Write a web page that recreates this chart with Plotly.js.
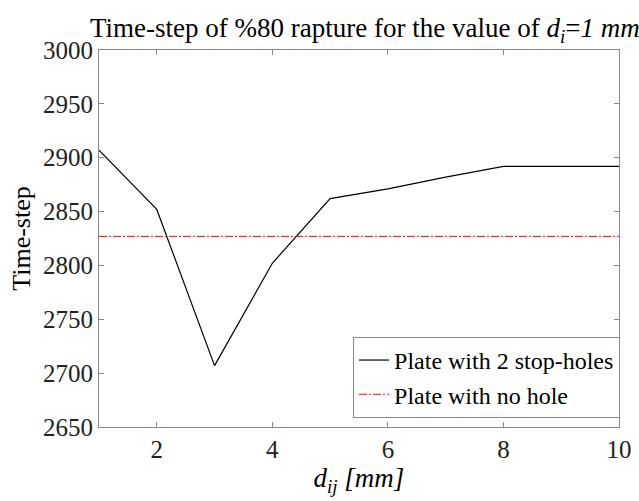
<!DOCTYPE html>
<html>
<head>
<meta charset="utf-8">
<script src="https://cdn.plot.ly/plotly-3.0.1.min.js"></script>
<style>html,body{margin:0;padding:0;background:#fff;}#chart{width:639px;height:501px;}</style>
</head>
<body>
<div id="chart"></div>
<script>
const dij = [1, 2, 3, 4, 5, 6, 7, 8, 9, 10];
const stopHoles = [2907, 2852, 2707, 2802, 2862, 2871, 2882, 2892, 2892, 2892];
const noHoleX = [1, 10];
const noHole = [2827, 2827];
const xTicks = [2, 4, 6, 8, 10];
const yTicks = [2650, 2700, 2750, 2800, 2850, 2900, 2950, 3000];

const font = 'Times New Roman, Liberation Serif, serif';
const traces = [
  {x: dij, y: stopHoles, mode: 'lines', name: 'Plate with 2 stop-holes',
   line: {color: '#000', width: 1.2}},
  {x: noHoleX, y: noHole, mode: 'lines', name: 'Plate with no hole',
   line: {color: '#ff0000', width: 1, dash: '8px,2px,2px,2px'}}
];
const axisCommon = {
  showgrid: false, zeroline: false, showline: true, linecolor: '#888', linewidth: 1,
  mirror: 'allticks', ticks: 'inside', ticklen: 5, tickcolor: '#888',
  tickfont: {family: font, size: 25, color: '#222'}
};
const layout = {
  width: 639, height: 501,
  margin: {l: 99, r: 20, t: 50, b: 74},
  paper_bgcolor: '#fff', plot_bgcolor: '#fff',
  font: {family: font, color: '#000'},
  title: {text: 'Time-step of %80 rapture for the value of <i>d</i><sub><i>i</i></sub>=<i>1 mm</i>',
          font: {family: font, size: 27, color: '#000'}, x: 0.571, xanchor: 'center', y: 0.945, yanchor: 'middle'},
  xaxis: Object.assign({}, axisCommon, {
    range: [1, 10], tickvals: xTicks, ticktext: xTicks.map(String),
    title: {text: '<i>d</i><sub><i>ij</i></sub><i> [mm]</i>', font: {family: font, size: 27, color: '#000'}, standoff: 5}
  }),
  yaxis: Object.assign({}, axisCommon, {
    range: [2650, 3000], tickvals: yTicks, ticktext: yTicks.map(String),
    title: {text: 'Time-step', font: {family: font, size: 26, color: '#000'}, standoff: 4}
  }),
  legend: {x: 1.002, y: 0.024, xanchor: 'right', yanchor: 'bottom',
           bgcolor: '#fff', bordercolor: '#888', borderwidth: 1,
           font: {family: font, size: 24, color: '#000'}, tracegroupgap: 0, itemwidth: 30},
  showlegend: true
};
Plotly.newPlot('chart', traces, layout, {displayModeBar: false, staticPlot: true});
</script>
</body>
</html>
